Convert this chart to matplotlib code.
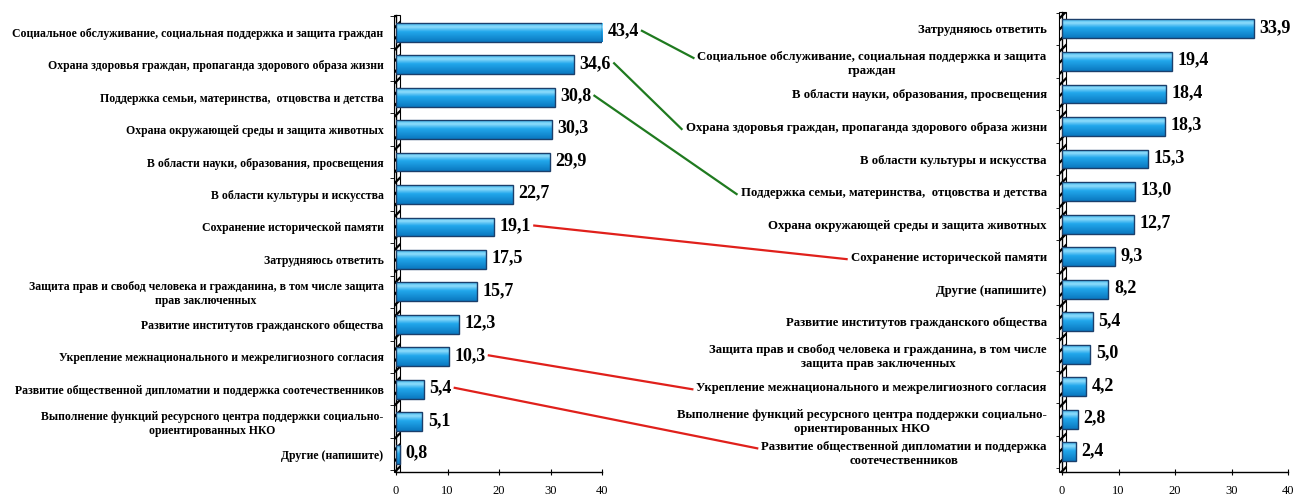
import numpy as np
import matplotlib.pyplot as plt
from matplotlib.patches import Rectangle
from matplotlib.lines import Line2D
from matplotlib.colors import LinearSegmentedColormap

plt.rcParams['font.family'] = ['Liberation Serif', 'DejaVu Serif']
plt.rcParams['hatch.linewidth'] = 1.6

left_labels = [
    "Социальное обслуживание, социальная поддержка и защита граждан",
    "Охрана здоровья граждан, пропаганда здорового образа жизни",
    "Поддержка семьи, материнства,  отцовства и детства",
    "Охрана окружающей среды и защита животных",
    "В области науки, образования, просвещения",
    "В области культуры и искусства",
    "Сохранение исторической памяти",
    "Затрудняюсь ответить",
    "Защита прав и свобод человека и гражданина, в том числе защита\nправ заключенных",
    "Развитие институтов гражданского общества",
    "Укрепление межнационального и межрелигиозного согласия",
    "Развитие общественной дипломатии и поддержка соотечественников",
    "Выполнение функций ресурсного центра поддержки социально-\nориентированных НКО",
    "Другие (напишите)",
]
left_values = [43.4, 34.6, 30.8, 30.3, 29.9, 22.7, 19.1, 17.5, 15.7, 12.3, 10.3, 5.4, 5.1, 0.8]

right_labels = [
    "Затрудняюсь ответить",
    "Социальное обслуживание, социальная поддержка и защита\nграждан",
    "В области науки, образования, просвещения",
    "Охрана здоровья граждан, пропаганда здорового образа жизни",
    "В области культуры и искусства",
    "Поддержка семьи, материнства,  отцовства и детства",
    "Охрана окружающей среды и защита животных",
    "Сохранение исторической памяти",
    "Другие (напишите)",
    "Развитие институтов гражданского общества",
    "Защита прав и свобод человека и гражданина, в том числе\nзащита прав заключенных",
    "Укрепление межнационального и межрелигиозного согласия",
    "Выполнение функций ресурсного центра поддержки социально-\nориентированных НКО",
    "Развитие общественной дипломатии и поддержка\nсоотечественников",
]
right_values = [33.9, 19.4, 18.4, 18.3, 15.3, 13.0, 12.7, 9.3, 8.2, 5.4, 5.0, 4.2, 2.8, 2.4]

x_ticks = [0, 10, 20, 30, 40]
# (left row, right row, colour)
links = [(0, 1, '#1f7a1f'), (1, 3, '#1f7a1f'), (2, 5, '#1f7a1f'),
         (6, 7, '#e0201b'), (10, 11, '#e0201b'), (11, 13, '#e0201b')]

bar_cmap = LinearSegmentedColormap.from_list(
    'cyl', [(0, '#3fb8f0'), (0.2, '#8fdcfb'), (0.45, '#22a8ec'), (1, '#0a78c0')])


def draw_panel(ax, labels, values, ylim, pad, label_size):
    y = np.arange(len(values))
    xmax = x_ticks[-1]
    # bars longer than the axis are cut at its end, as in the original
    widths = np.minimum(values, xmax)
    bars = ax.barh(y, widths, height=0.58, color='#1ea8ea', zorder=3)
    grad = np.linspace(0, 1, 64).reshape(-1, 1)
    for b in bars:
        x0, y0, w, h = b.get_x(), b.get_y(), b.get_width(), b.get_height()
        im = ax.imshow(grad, cmap=bar_cmap, extent=[x0, x0 + w, y0 + h, y0],
                       aspect='auto', zorder=3.5, interpolation='bilinear')
        im.set_clip_path(b)
    ax.barh(y, widths, height=0.58, facecolor='none', edgecolor='#1b3f6b',
            linewidth=1.0, zorder=4)

    texts = []
    for i, v in enumerate(values):
        t = ax.annotate(f'{v:.1f}'.replace('.', ','), xy=(min(v, xmax), i),
                        xytext=(4, 1), textcoords='offset points',
                        ha='left', va='center', fontsize=13,
                        fontweight='bold', annotation_clip=False)
        texts.append(t)

    ax.add_patch(Rectangle((-0.012, 0), 0.03, 1, transform=ax.transAxes,
                           facecolor='white', edgecolor='black', hatch='///',
                           linewidth=0.8, clip_on=False, zorder=2))

    ax.set_xlim(0, xmax)
    ax.set_ylim(*ylim)
    ax.set_xticks(x_ticks)
    ax.set_yticks(y)
    ax.set_yticklabels(labels, fontsize=label_size, fontweight='bold')
    for t in ax.get_yticklabels():
        t.set_multialignment('center')
    ax.set_yticks(np.arange(len(values) + 1) - 0.5, minor=True)
    ax.tick_params(axis='y', which='major', length=0, pad=pad)
    ax.tick_params(axis='y', which='minor', length=4, direction='out')
    ax.tick_params(axis='x', length=5, direction='inout', labelsize=9, pad=7)
    for s in ['top', 'right']:
        ax.spines[s].set_visible(False)
    ax.spines['left'].set_linewidth(1.0)
    ax.spines['bottom'].set_linewidth(1.0)
    return texts


fig = plt.figure(figsize=(12.96, 4.95), dpi=100)
ax1 = fig.add_axes([396 / 1296, 23 / 495, 206 / 1296, 457 / 495])
ax2 = fig.add_axes([1062 / 1296, 23 / 495, 226 / 1296, 460 / 495])

left_texts = draw_panel(ax1, left_labels, left_values, (13.55, -0.53), 9, 8.5)
draw_panel(ax2, right_labels, right_values, (13.62, -0.52), 11, 9.2)

fig.canvas.draw()
renderer = fig.canvas.get_renderer()
W, H = fig.bbox.width, fig.bbox.height
right_ticklabels = ax2.get_yticklabels()
for li, ri, col in links:
    a = left_texts[li].get_window_extent(renderer)
    b = right_ticklabels[ri].get_window_extent(renderer)
    xa, ya = a.x1 + 3, (a.y0 + a.y1) / 2
    xb, yb = b.x0 - 4, b.y1 - 7
    fig.add_artist(Line2D([xa / W, xb / W], [ya / H, yb / H], color=col,
                          linewidth=1.6, transform=fig.transFigure))

fig.savefig('out.png', dpi=100)
